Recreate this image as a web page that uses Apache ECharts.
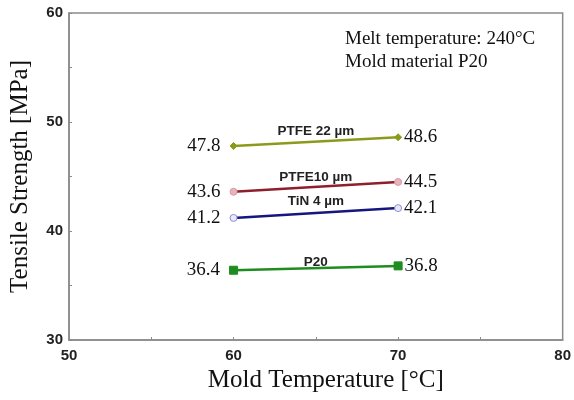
<!DOCTYPE html>
<html>
<head>
<meta charset="utf-8">
<script src="https://cdn.jsdelivr.net/npm/echarts@6/dist/echarts.min.js"></script>
<style>
  html, body { margin: 0; padding: 0; background: #fff; }
  #chart { width: 574px; height: 400px; }
</style>
</head>
<body>
<div id="chart"></div>
<script>
// Mold temperatures (°C) and tensile strength (MPa) for each mold surface
const moldTemps = [60, 70];
const ptfe22 = [47.8, 48.6];
const ptfe10 = [43.6, 44.5];
const tin4 = [41.2, 42.1];
const p20 = [36.4, 36.8];
const seriesNames = ['PTFE 22 µm', 'PTFE10 µm', 'TiN 4 µm', 'P20'];
const notes = ['Melt temperature: 240°C', 'Mold material P20'];

const serif = '"Liberation Serif", "Times New Roman", serif';
const sans = '"Liberation Sans", Arial, sans-serif';

function makeSeries(name, values, color, symbol, symbolSize, itemStyle, nameOffset) {
  const mid = [(moldTemps[0] + moldTemps[1]) / 2, (values[0] + values[1]) / 2];
  return {
    name: name,
    type: 'line',
    data: moldTemps.map((t, i) => ({
      value: [t, values[i]],
      // first point labelled on its left, last point on its right
      label: { position: i === 0 ? 'left' : 'right', distance: i === 0 ? 9 : 2 }
    })),
    symbol: symbol,
    symbolSize: symbolSize,
    showAllSymbol: true,
    lineStyle: { color: color, width: 2.5 },
    itemStyle: itemStyle,
    label: {
      show: true,
      fontFamily: serif,
      fontSize: 19,
      color: '#111',
      formatter: p => p.value[1].toFixed(1)
    },
    markPoint: {
      symbol: 'circle',
      symbolSize: 0,
      silent: true,
      data: [{ coord: mid }],
      label: {
        show: true,
        position: 'top',
        distance: nameOffset,
        formatter: name,
        fontFamily: sans,
        fontSize: 13.5,
        fontWeight: 'bold',
        color: '#222'
      }
    },
    z: 3
  };
}

const series = [
  makeSeries(seriesNames[0], ptfe22, '#8c9a1c', 'diamond', 7,
    { color: '#8c9a1c', borderColor: '#8c9a1c' }, 3),
  makeSeries(seriesNames[1], ptfe10, '#8e1f2c', 'circle', 7,
    { color: '#e9b4bc', borderColor: '#d99aa4', borderWidth: 1 }, 3),
  makeSeries(seriesNames[2], tin4, '#16167e', 'circle', 7,
    { color: '#e8e8f8', borderColor: '#8f8fd0', borderWidth: 1 }, 5),
  makeSeries(seriesNames[3], p20, '#1f8c1f', 'rect', 8,
    { color: '#1f8c1f', borderColor: '#1f8c1f' }, -1)
];

const axisGray = '#8a8a8a';

const option = {
  animation: false,
  backgroundColor: '#fff',
  grid: {
    left: 67, right: 9, top: 13, bottom: 60,
    show: true, borderColor: axisGray, borderWidth: 1.5, backgroundColor: 'transparent'
  },
  xAxis: {
    type: 'value',
    min: 50, max: 80, interval: 10,
    name: 'Mold Temperature [°C]',
    nameLocation: 'middle',
    nameGap: 28,
    nameTextStyle: { fontFamily: serif, fontSize: 25, color: '#111', padding: [0, 0, 0, 20] },
    axisLine: { show: true, lineStyle: { color: axisGray, width: 1.5 } },
    axisTick: { show: true, inside: true, length: 3, lineStyle: { color: axisGray } },
    minorTick: { show: true, splitNumber: 2, length: 3, lineStyle: { color: axisGray } },
    splitLine: { show: false },
    axisLabel: { fontFamily: sans, fontWeight: 'bold', fontSize: 15, color: '#222', margin: 8 }
  },
  yAxis: {
    type: 'value',
    min: 30, max: 60, interval: 10,
    name: 'Tensile Strength [MPa]',
    nameLocation: 'middle',
    nameGap: 36,
    nameTextStyle: { fontFamily: serif, fontSize: 25, color: '#111' },
    axisLine: { show: true, lineStyle: { color: axisGray, width: 1.5 } },
    axisTick: { show: true, inside: true, length: 3, lineStyle: { color: axisGray } },
    minorTick: { show: true, splitNumber: 2, length: 3, lineStyle: { color: axisGray } },
    splitLine: { show: false },
    axisLabel: { fontFamily: sans, fontWeight: 'bold', fontSize: 15, color: '#222', margin: 6 }
  },
  graphic: [
    {
      type: 'text', left: 345, top: 28,
      style: { text: notes.join('\n'), fontFamily: serif, fontSize: 19, lineHeight: 23, fill: '#111' }
    }
  ],
  series: series
};

const chart = echarts.init(document.getElementById('chart'), null, { renderer: 'canvas' });
chart.setOption(option);
</script>
</body>
</html>
